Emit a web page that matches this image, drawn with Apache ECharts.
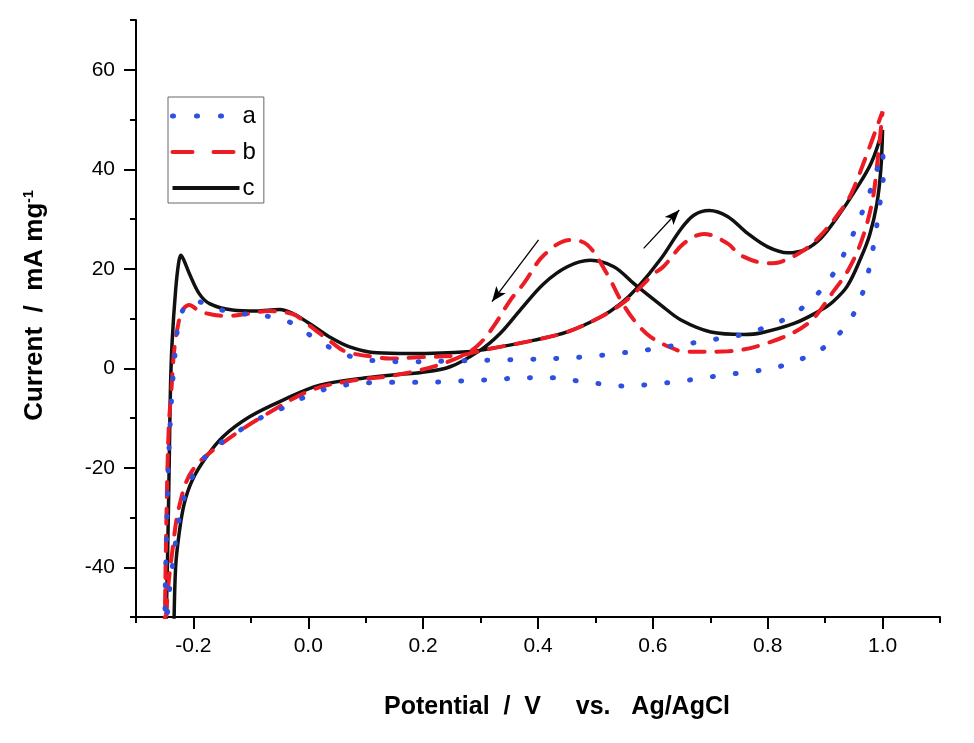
<!DOCTYPE html>
<html>
<head>
<meta charset="utf-8">
<script src="https://cdn.jsdelivr.net/npm/echarts@6/dist/echarts.min.js"></script>
<style>html,body{margin:0;padding:0;background:#fff}#chart{width:974px;height:743px}</style>
</head>
<body>
<div id="chart"></div>
<script>
// ---- tick values ----
const xTicks = [-0.2, 0.0, 0.2, 0.4, 0.6, 0.8, 1.0];
const xMinorTicks = [-0.3, -0.1, 0.1, 0.3, 0.5, 0.7, 0.9, 1.1];
const yTicks = [-40, -20, 0, 20, 40, 60];
const yMinorTicks = [-50, -30, -10, 10, 30, 50, 70];
const seriesNames = ['a', 'b', 'c'];

// ---- curve a (blue dotted) : [potential, current] ----
const seriesA = [
  [-0.250,-53],[-0.249,-44],[-0.247,-34.6],[-0.245,-25],[-0.242,-14.8],[-0.239,-8],[-0.236,-2.5],
  [-0.233,1.5],[-0.2306,4.6],[-0.225,9.7],[-0.214,12.5],[-0.2016,13.6],[-0.185,13.2],[-0.161,12],
  [-0.117,11],[-0.073,10.5],[-0.033,9.3],[0.008,6.3],[0.052,3.3],[0.095,1.8],[0.136,1.4],[0.177,1.3],
  [0.264,1.5],[0.352,1.7],[0.436,2.0],[0.494,2.4],[0.538,3.0],[0.579,3.5],[0.622,4.3],[0.665,5.0],
  [0.707,5.8],[0.749,6.6],[0.791,8.0],[0.835,10.2],[0.877,13.8],[0.912,18.6],[0.935,23.5],[0.954,28.4],
  [0.971,33.3],[0.986,38.2],[1.0,43.5],
  [1.001,38],[0.995,32.8],[0.989,28],[0.982,23.2],[0.973,18.3],[0.959,13.2],[0.936,8.5],[0.897,4.1],
  [0.853,1.6],[0.812,0.1],[0.770,-0.7],[0.727,-1.3],[0.685,-2.0],[0.643,-2.7],[0.599,-3.2],[0.555,-3.6],
  [0.515,-3.2],[0.471,-2.6],[0.43,-1.9],[0.387,-1.9],[0.343,-2.1],[0.299,-2.4],[0.256,-2.6],[0.215,-2.8],
  [0.171,-2.8],[0.13,-2.8],[0.087,-3.1],[0.043,-3.8],[0.001,-5.4],[-0.041,-7.8],[-0.085,-10.1],
  [-0.126,-13],[-0.169,-16.5],[-0.199,-21.2],[-0.216,-25.9],[-0.226,-31.1],[-0.2376,-40.8],
  [-0.2435,-46.7],[-0.247,-53]
];

// ---- curve b (red dashed) ----
const seriesB = [
  [-0.250,-53],[-0.247,-30],[-0.243,-12],[-0.238,-3.8],[-0.2335,3.6],[-0.225,9.7],[-0.219,11.7],
  [-0.207,12.7],[-0.19,11.5],[-0.172,10.9],[-0.143,10.5],[-0.1025,11],[-0.07,11.5],[-0.027,10.9],
  [-0.003,9],[0.043,5],[0.066,3.3],[0.113,2.3],[0.142,1.95],[0.19,2.2],[0.264,2.6],[0.299,3.5],
  [0.334,4.3],[0.392,5.6],[0.451,7.3],[0.509,10.3],[0.544,12.8],[0.567,15],[0.602,19],[0.619,20.5],
  [0.654,25.1],[0.689,27],[0.73,25.1],[0.753,22.7],[0.8,21.1],[0.823,21.4],[0.864,23.8],[0.893,26.8],
  [0.928,31.8],[0.946,35.2],[0.969,41.9],[1.0,51.6],
  [0.992,42.5],[0.982,33.5],[0.963,25.5],[0.94,19.7],[0.916,15.7],[0.87,9],[0.8,5.1],[0.73,3.4],
  [0.66,3.3],[0.643,3.6],[0.596,6.3],[0.567,9.7],[0.544,13.7],[0.52,19],[0.486,24.8],[0.456,25.8],
  [0.41,22.7],[0.375,17],[0.352,13.7],[0.322,8.3],[0.299,5],[0.276,3],[0.235,0.95],[0.194,-0.4],
  [0.16,-1.2],[0.142,-1.6],[0.07,-2.6],[0.005,-4.4],[-0.062,-8.5],[-0.143,-14.5],[-0.2016,-20.5],
  [-0.225,-27.9],[-0.2365,-36.6],[-0.245,-45.4],[-0.248,-53]
];

// ---- curve c (black solid) ----
const seriesC = [
  [-0.248,-53],[-0.245,-38],[-0.242,-18],[-0.240,-4],[-0.237,5.5],[-0.231,15.7],[-0.226,21],
  [-0.222,22.7],[-0.217,21.8],[-0.207,19],[-0.19,15],[-0.172,13],[-0.132,11.7],[-0.091,11.5],
  [-0.05,11.8],[-0.027,11],[0.002,9],[0.037,6.3],[0.072,4.3],[0.119,3.1],[0.177,2.95],[0.276,3.3],
  [0.334,4.3],[0.392,5.6],[0.451,7.3],[0.509,10.3],[0.544,13],[0.573,16.2],[0.614,22],[0.649,28],
  [0.672,30.8],[0.698,31.7],[0.73,30.5],[0.765,27.1],[0.80,24.4],[0.835,23.2],[0.864,23.8],
  [0.893,26.2],[0.922,30.5],[0.951,35.5],[0.98,41.2],[1.0,47.9],
  [0.997,40],[0.99,33],[0.978,27],[0.963,22.4],[0.938,16.4],[0.91,13],[0.893,11.7],[0.846,9],
  [0.788,7.1],[0.759,6.8],[0.701,7.3],[0.649,9.7],[0.614,12.7],[0.567,17],[0.532,20.4],[0.491,21.7],
  [0.451,20.4],[0.41,17],[0.369,11.7],[0.334,7],[0.299,3.6],[0.247,0.3],[0.194,-0.9],[0.16,-1.2],
  [0.101,-1.9],[0.02,-3.4],[-0.044,-6.4],[-0.103,-9.8],[-0.149,-13.8],[-0.178,-17.9],[-0.202,-22.5],
  [-0.216,-27.2],[-0.225,-33.3],[-0.231,-40],[-0.234,-53]
];

// ---- scan-direction arrows [from, to] ----
const arrowCathodic = [[0.401, 25.8], [0.32, 13.4]];
const arrowAnodic = [[0.584, 24.1], [0.646, 31.8]];

const FONT = '"Liberation Sans", Arial, sans-serif';
const BLUE = '#2f4fe0', RED = '#ec1c24', BLACK = '#111';
const chart = echarts.init(document.getElementById('chart'), null, {renderer: 'canvas'});

function mainX() {
  return {
    type: 'value', min: -0.3, max: 1.1, position: 'bottom',
    axisLine: {show: true, onZero: false, lineStyle: {color: '#000', width: 2}},
    axisTick: {show: true, inside: false, length: 12, customValues: xTicks, lineStyle: {color: '#000', width: 2}},
    axisLabel: {show: true, customValues: xTicks, formatter: v => v.toFixed(1), margin: 19,
      fontSize: 21, color: '#000', fontFamily: FONT},
    splitLine: {show: false},
    name: 'Potential  /  V     vs.   Ag/AgCl', nameLocation: 'middle', nameGap: 78,
    nameTextStyle: {fontSize: 25, fontWeight: 'bold', color: '#000', fontFamily: FONT, padding: [0, 0, 0, 38]}
  };
}
function minorX() {
  return {
    type: 'value', min: -0.3, max: 1.1, position: 'bottom',
    axisLine: {show: false, onZero: false},
    axisTick: {show: true, inside: false, length: 6, customValues: xMinorTicks, lineStyle: {color: '#000', width: 2}},
    axisLabel: {show: false}, splitLine: {show: false}
  };
}
function mainY() {
  return {
    type: 'value', min: -50, max: 70, position: 'left',
    axisLine: {show: true, onZero: false, lineStyle: {color: '#000', width: 2}},
    axisTick: {show: true, inside: false, length: 12, customValues: yTicks, lineStyle: {color: '#000', width: 2}},
    axisLabel: {show: true, customValues: yTicks, margin: 21, fontSize: 21, color: '#000', fontFamily: FONT},
    splitLine: {show: false},
    name: '{t|Current  /  mA mg}{s|-1}', nameLocation: 'middle', nameGap: 88, nameRotate: 90,
    nameTextStyle: {
      padding: [0, 0, 0, 26],
      rich: {
        t: {fontSize: 26, fontWeight: 'bold', color: '#000', fontFamily: FONT},
        s: {fontSize: 14, fontWeight: 'bold', color: '#000', fontFamily: FONT, verticalAlign: 'top', padding: [0, 0, 12, 0]}
      }
    }
  };
}
function minorY() {
  return {
    type: 'value', min: -50, max: 70, position: 'left',
    axisLine: {show: false, onZero: false},
    axisTick: {show: true, inside: false, length: 6, customValues: yMinorTicks, lineStyle: {color: '#000', width: 2}},
    axisLabel: {show: false}, splitLine: {show: false}
  };
}

const arrowLine = (pts) => [{coord: pts[0]}, {coord: pts[1]}];

chart.setOption({
  animation: false,
  backgroundColor: '#fff',
  grid: {left: 136, right: 34, top: 20, bottom: 126, containLabel: false},
  xAxis: [mainX(), minorX()],
  yAxis: [mainY(), minorY()],
  legend: {
    data: [
      {name: seriesNames[0], itemStyle: {opacity: 0}, lineStyle: {color: BLUE, width: 5, type: [1, 23], cap: 'round'}},
      {name: seriesNames[1], itemStyle: {opacity: 0}, lineStyle: {color: RED, width: 4, type: [20, 21], cap: 'round'}},
      {name: seriesNames[2], itemStyle: {opacity: 0}, lineStyle: {color: BLACK, width: 4, type: 'solid'}}
    ],
    orient: 'vertical', left: 168, top: 97,
    itemWidth: 67, itemHeight: 14, itemGap: 12,
    padding: [7, 8, 3, 2], borderColor: '#666', borderWidth: 1,
    textStyle: {fontSize: 24, color: '#000', fontFamily: FONT, padding: [0, 0, 0, -2]},
    selectedMode: false
  },
  series: [
    {
      name: seriesNames[2], type: 'line', data: seriesC, xAxisIndex: 0, yAxisIndex: 0,
      showSymbol: false, symbol: 'none', smooth: 0.35, clip: true, z: 2,
      lineStyle: {color: BLACK, width: 3.5},
      itemStyle: {color: BLACK},
      markLine: {
        silent: true, symbol: ['none', 'arrow'], symbolSize: [9, 15],
        label: {show: false},
        lineStyle: {color: '#000', width: 1.3, type: 'solid'},
        data: [arrowLine(arrowCathodic), arrowLine(arrowAnodic)]
      }
    },
    {
      name: seriesNames[1], type: 'line', data: seriesB, xAxisIndex: 0, yAxisIndex: 0,
      showSymbol: false, symbol: 'none', smooth: 0.35, clip: true, z: 3,
      lineStyle: {color: RED, width: 4, type: [15, 12], cap: 'round'},
      itemStyle: {color: RED}
    },
    {
      name: seriesNames[0], type: 'line', data: seriesA, xAxisIndex: 0, yAxisIndex: 0,
      showSymbol: false, symbol: 'none', smooth: 0.35, clip: true, z: 4,
      lineStyle: {color: BLUE, width: 5, type: [1, 22], cap: 'round'},
      itemStyle: {color: BLUE}
    }
  ]
});
</script>
</body>
</html>
